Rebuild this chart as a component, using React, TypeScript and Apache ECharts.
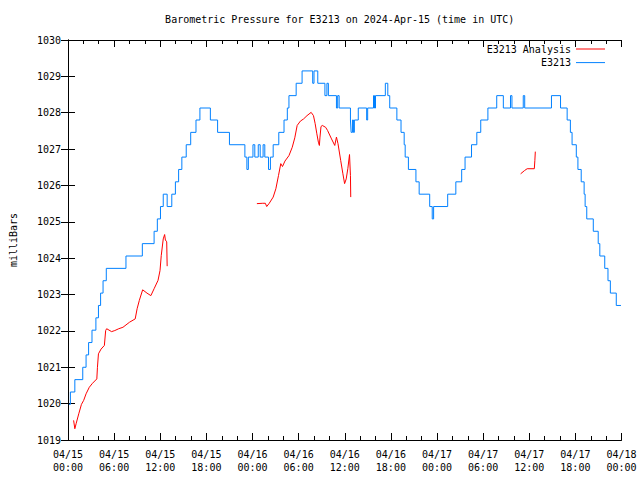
import React, { useEffect, useRef } from "react";
import * as echarts from "echarts";

// hours since 2024-04-15 00:00 UTC, pressure in millibars
const stationData: [number, number][] = [
  [0.13, 1019.98], [0.31, 1020.32], [0.89, 1020.66], [1.92, 1021.0], [2.35, 1021.34], [2.68, 1021.68],
  [3.12, 1022.02], [3.63, 1022.36], [3.96, 1022.7], [4.24, 1023.04], [4.56, 1023.38], [4.98, 1023.72],
  [7.54, 1024.06], [9.67, 1024.4], [11.2, 1024.74], [11.62, 1025.08], [12.03, 1025.42], [12.39, 1025.76],
  [12.9, 1025.42], [13.5, 1025.76], [13.97, 1026.1], [14.39, 1026.44], [14.81, 1026.78], [15.38, 1027.12],
  [15.96, 1027.46], [16.65, 1027.8], [17.16, 1028.13], [18.52, 1027.8], [19.46, 1027.46], [21.0, 1027.12],
  [23.01, 1026.78], [23.27, 1026.44], [23.46, 1026.78], [24.06, 1027.12], [24.3, 1026.78], [24.75, 1027.12],
  [25.0, 1026.78], [25.38, 1027.12], [25.6, 1026.78], [26.08, 1026.44],
  [26.33, 1026.78], [26.69, 1027.12], [27.42, 1027.46], [28.1, 1027.8], [28.53, 1028.13], [28.74, 1028.47],
  [29.68, 1028.81], [30.45, 1029.15], [31.83, 1028.81], [32.0, 1029.15], [32.49, 1028.81], [33.42, 1028.47],
  [33.68, 1028.81], [33.87, 1028.47], [34.92, 1028.13], [35.08, 1028.47],
  [35.27, 1028.13], [36.74, 1027.8], [36.83, 1027.46], [37.0, 1027.8], [37.13, 1027.46], [37.25, 1027.8],
  [37.76, 1028.13], [38.85, 1027.8], [38.98, 1028.13], [39.74, 1028.47], [39.87, 1028.13], [40.0, 1028.47],
  [41.28, 1028.81], [41.6, 1028.47], [41.85, 1028.13], [42.78, 1027.8], [43.32, 1027.46], [43.73, 1027.12],
  [43.86, 1026.78], [44.28, 1026.44], [45.26, 1026.1], [45.68, 1025.76], [47.05, 1025.42], [47.38, 1025.08],
  [47.56, 1025.42], [49.39, 1025.76], [50.45, 1026.1], [51.21, 1026.44], [51.65, 1026.78], [52.49, 1027.12],
  [53.18, 1027.46], [53.69, 1027.8], [54.62, 1028.13], [55.77, 1028.47], [56.63, 1028.13], [57.56, 1028.47],
  [57.75, 1028.13], [59.22, 1028.47], [59.41, 1028.13], [62.89, 1028.47], [64.07, 1028.13], [64.93, 1027.8],
  [65.35, 1027.46], [65.57, 1027.12], [66.12, 1026.78], [66.33, 1026.44], [66.76, 1026.1], [67.14, 1025.76],
  [67.27, 1025.42], [67.48, 1025.08], [68.33, 1024.74], [68.97, 1024.4], [69.18, 1024.06], [69.82, 1023.72],
  [70.24, 1023.38], [70.55, 1023.04], [71.32, 1022.7], [71.93, 1022.7],
];

const analysis1: [number, number][] = [
  [0.73, 1019.54], [0.89, 1019.31], [1.07, 1019.46], [1.4, 1019.72], [1.75, 1019.98], [2.04, 1020.09],
  [2.35, 1020.27], [2.77, 1020.45], [3.19, 1020.56], [3.75, 1020.68], [3.83, 1021.0], [3.96, 1021.37],
  [4.3, 1021.5], [4.73, 1021.6], [4.9, 1022.01], [5.03, 1022.06], [5.67, 1021.98], [6.09, 1022.01],
  [6.6, 1022.06], [7.15, 1022.1], [8.01, 1022.24], [8.74, 1022.33], [8.99, 1022.61], [9.28, 1022.84],
  [9.71, 1023.13], [10.27, 1023.04], [10.78, 1022.97], [11.2, 1023.16], [11.71, 1023.39], [11.97, 1023.66],
  [12.13, 1024.07], [12.39, 1024.53], [12.57, 1024.65], [12.67, 1024.5], [12.84, 1024.45], [12.9, 1023.78],
];
const analysis2: [number, number][] = [
  [24.57, 1025.5], [25.34, 1025.51], [25.67, 1025.51], [25.85, 1025.42], [26.18, 1025.51], [26.69, 1025.68],
  [27.04, 1025.91], [27.38, 1026.27], [27.68, 1026.6], [27.9, 1026.52], [28.22, 1026.67], [28.74, 1026.82],
  [29.17, 1027.05], [29.5, 1027.31], [29.81, 1027.65], [30.23, 1027.77], [30.65, 1027.83], [31.09, 1027.92],
  [31.63, 1028.01], [31.93, 1027.92], [32.15, 1027.7], [32.37, 1027.42], [32.57, 1027.19], [32.7, 1027.1],
  [32.78, 1027.33], [32.91, 1027.62], [33.08, 1027.65], [33.51, 1027.6], [33.77, 1027.51], [34.28, 1027.28],
  [34.7, 1027.1], [34.92, 1027.33], [35.12, 1027.15], [35.47, 1026.69], [35.76, 1026.32], [35.98, 1026.05],
  [36.19, 1026.18], [36.4, 1026.46], [36.62, 1026.85], [36.74, 1026.27], [36.78, 1025.68],
];
const analysis3: [number, number][] = [
  [58.88, 1026.32], [59.39, 1026.41], [59.73, 1026.46], [60.66, 1026.46], [60.73, 1026.69], [60.79, 1026.93],
];

const xTickHours = { min: 0, max: 72, step: 6 };
const yTicks = { min: 1019, max: 1030, step: 1 };

const TITLE = "Barometric Pressure for E3213 on 2024-Apr-15 (time in UTC)";
const FONT = "'DejaVu Sans Mono', 'Liberation Mono', monospace";

function fmtX(v: number): string {
  const day = 15 + Math.floor(v / 24);
  const hh = Math.round(v % 24);
  const p = (n: number) => (n < 10 ? "0" + n : "" + n);
  return `04/${p(day)}\n${p(hh)}:00`;
}

export default function App() {
  const ref = useRef<HTMLDivElement>(null);
  useEffect(() => {
    document.body.style.margin = "0";
    if (!ref.current) return;
    const chart = echarts.init(ref.current, undefined, { renderer: "svg" });
    const analysisData: any[] = [
      ...analysis1,
      [18, null],
      ...analysis2,
      [48, null],
      ...analysis3,
    ];
    const axisLine = { show: true, lineStyle: { color: "#000", width: 1 } };
    const xCommon = {
      type: "value",
      min: xTickHours.min,
      max: xTickHours.max,
      interval: xTickHours.step,
      axisLine,
      axisTick: { show: true, inside: true, length: 7, lineStyle: { color: "#000" } },
      minorTick: { show: true, splitNumber: 3, length: 4, lineStyle: { color: "#000" } },
      splitLine: { show: false },
      minorSplitLine: { show: false },
    };
    const yCommon = {
      type: "value",
      min: yTicks.min,
      max: yTicks.max,
      interval: yTicks.step,
      axisLine,
      axisTick: { show: true, inside: true, length: 7, lineStyle: { color: "#000" } },
      splitLine: { show: false },
    };
    chart.setOption({
      animation: false,
      backgroundColor: "#fff",
      grid: { left: 58, right: 18.5, top: 40, bottom: 40, containLabel: false },
      graphic: [
        {
          type: "text",
          x: 339.7,
          y: 19,
          style: {
            text: TITLE,
            align: "center",
            textAlign: "center",
            verticalAlign: "middle",
            textVerticalAlign: "middle",
            fontFamily: FONT,
            fontSize: 10,
            fill: "#000",
          },
        },
      ],
      legend: {
        orient: "vertical",
        align: "right",
        right: 30,
        top: 38,
        itemWidth: 29,
        itemHeight: 1,
        itemGap: 1.6,
        icon: "rect",
        textStyle: { fontFamily: FONT, fontSize: 10, color: "#000", lineHeight: 12 },
        data: ["E3213 Analysis", "E3213"],
      },
      xAxis: [
        {
          ...xCommon,
          position: "bottom",
          axisLabel: {
            show: true,
            formatter: fmtX,
            fontFamily: FONT,
            fontSize: 10,
            color: "#000",
            lineHeight: 13,
            margin: 8,
            showMinLabel: true,
            showMaxLabel: true,
          },
        },
        { ...xCommon, position: "top", axisLabel: { show: false } },
      ],
      yAxis: [
        {
          ...yCommon,
          position: "left",
          name: "milliBars",
          nameLocation: "middle",
          nameRotate: 90,
          nameGap: 50,
          nameTextStyle: { fontFamily: FONT, fontSize: 10, color: "#000" },
          axisLabel: {
            show: true,
            formatter: (v: number) => String(v),
            fontFamily: FONT,
            fontSize: 10,
            color: "#000",
            margin: 7,
          },
        },
        { ...yCommon, position: "right", axisLabel: { show: false } },
      ],
      series: [
        {
          name: "E3213 Analysis",
          type: "line",
          xAxisIndex: 0,
          yAxisIndex: 0,
          data: analysisData,
          showSymbol: false,
          symbol: "none",
          connectNulls: false,
          color: "#ff0000",
          lineStyle: { color: "#ff0000", width: 1 },
        },
        {
          name: "E3213",
          type: "line",
          xAxisIndex: 0,
          yAxisIndex: 0,
          data: stationData,
          step: "end",
          showSymbol: false,
          symbol: "none",
          color: "#0080ff",
          lineStyle: { color: "#0080ff", width: 1 },
        },
      ],
    });
    return () => chart.dispose();
  }, []);
  return <div ref={ref} style={{ width: 640, height: 480 }} />;
}
